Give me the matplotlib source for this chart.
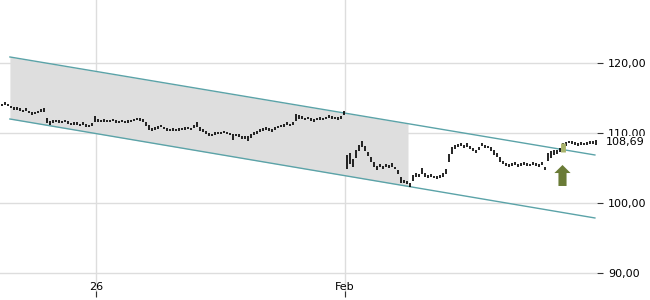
import numpy as np
import matplotlib
matplotlib.use("Agg")
import matplotlib.pyplot as plt

# intraday bars (close and high-low span), one every bar index
closes = [
    114.0, 114.2, 114.0, 113.7, 113.5, 113.5, 113.3, 113.2, 113.3, 113.0,
    112.8, 112.9, 113.0, 113.2, 113.3, 111.8, 111.4, 111.6, 111.7, 111.6,
    111.6, 111.7, 111.5, 111.3, 111.4, 111.3, 111.2, 111.3, 111.1, 111.0,
    111.2, 112.0, 111.8, 111.7, 111.8, 111.7, 111.7, 111.8, 111.6, 111.6,
    111.7, 111.6, 111.6, 111.7, 111.9, 112.0, 111.9, 111.8, 111.3, 110.8,
    110.5, 110.6, 110.8, 111.0, 110.7, 110.5, 110.4, 110.5, 110.4, 110.5,
    110.6, 110.6, 110.7, 110.6, 110.9, 111.2, 110.6, 110.4, 110.1, 109.8,
    109.7, 109.9, 110.0, 110.0, 110.1, 110.0, 109.9, 109.4, 109.7, 109.6,
    109.4, 109.3, 109.2, 109.6, 109.9, 110.1, 110.3, 110.5, 110.6, 110.5,
    110.3, 110.6, 110.8, 111.0, 111.1, 111.3, 111.2, 111.3, 112.2, 112.3,
    112.2, 112.0, 112.1, 111.9, 111.8, 112.0, 112.1, 112.0, 112.2, 112.3,
    112.2, 112.1, 112.1, 112.2, 112.8, 105.8, 106.3, 105.7, 107.0, 107.9,
    108.4, 107.8, 107.0, 106.2, 105.5, 105.0, 105.3, 105.1, 105.3, 105.2,
    105.4, 105.0, 104.4, 103.3, 103.1, 102.9, 102.6, 103.6, 104.0, 103.9,
    104.6, 104.0, 103.8, 103.9, 103.7, 103.6, 103.8, 104.0, 104.5, 106.4,
    107.5, 108.0, 108.2, 108.3, 108.1, 108.3, 107.9, 107.6, 107.4, 107.8,
    108.3, 108.1, 108.0, 107.7, 107.2, 106.8, 106.2, 105.8, 105.5, 105.3,
    105.5, 105.6, 105.4, 105.5, 105.6, 105.5, 105.4, 105.6, 105.5, 105.4,
    105.6, 104.9, 106.6, 106.9, 107.2, 107.3, 107.6, 107.9, 108.4, 108.7,
    108.6, 108.5, 108.3, 108.5, 108.4, 108.5, 108.6, 108.6, 108.69,
]
spans = [
    0.4, 0.5, 0.4, 0.4, 0.3, 0.4, 0.4, 0.3, 0.4, 0.4,
    0.4, 0.3, 0.4, 0.4, 0.5, 0.8, 0.5, 0.4, 0.3, 0.4,
    0.3, 0.4, 0.4, 0.3, 0.4, 0.4, 0.3, 0.4, 0.4, 0.3,
    0.5, 0.8, 0.4, 0.3, 0.4, 0.3, 0.4, 0.3, 0.4, 0.3,
    0.4, 0.3, 0.4, 0.4, 0.3, 0.4, 0.4, 0.4, 0.5, 0.8,
    0.5, 0.4, 0.4, 0.3, 0.4, 0.4, 0.3, 0.4, 0.3, 0.4,
    0.3, 0.4, 0.4, 0.3, 0.4, 0.6, 0.5, 0.4, 0.4, 0.4,
    0.3, 0.4, 0.3, 0.4, 0.3, 0.4, 0.3, 0.8, 0.4, 0.4,
    0.4, 0.4, 0.7, 0.5, 0.4, 0.4, 0.4, 0.3, 0.4, 0.4,
    0.4, 0.4, 0.3, 0.4, 0.4, 0.4, 0.3, 0.4, 1.0, 0.5,
    0.4, 0.4, 0.3, 0.4, 0.4, 0.3, 0.4, 0.4, 0.3, 0.4,
    0.4, 0.3, 0.4, 0.4, 0.6, 2.0, 1.6, 1.2, 1.2, 0.9,
    0.9, 0.8, 0.7, 0.8, 0.6, 0.5, 0.4, 0.5, 0.4, 0.4,
    0.5, 0.4, 0.6, 0.8, 0.5, 0.4, 0.5, 0.8, 0.5, 0.4,
    0.8, 0.5, 0.4, 0.4, 0.3, 0.4, 0.4, 0.5, 0.8, 1.2,
    0.9, 0.5, 0.4, 0.4, 0.4, 0.5, 0.4, 0.4, 0.4, 0.5,
    0.4, 0.4, 0.4, 0.5, 0.7, 0.6, 0.6, 0.5, 0.4, 0.4,
    0.3, 0.4, 0.4, 0.3, 0.4, 0.4, 0.3, 0.4, 0.3, 0.4,
    0.4, 0.4, 1.2, 1.0, 0.6, 0.5, 0.5, 1.2, 0.5, 0.4,
    0.4, 0.3, 0.4, 0.4, 0.3, 0.4, 0.4, 0.4, 0.7,
]

# trend channel
channel_x = [2.8, 197.8]
channel_upper = [120.86, 106.86]
channel_lower = [112.0, 97.86]
shade_end = 135.5

signal_bar = 187
arrow_bottom = 102.43
arrow_top = 105.43

x_ticks = [31.5, 114.5]
x_labels = ["26", "Feb"]
y_ticks = [90, 100, 110, 120]
y_labels = ["90,00", "100,00", "110,00", "120,00"]
last_price = 108.69
last_label = "108,69"

teal = "#5ba3a8"
grid = "#dddddd"

fig = plt.figure(figsize=(6.5, 3), dpi=100)
ax = fig.add_axes([0, 3 / 300, 597 / 650, 297 / 300])

x = np.arange(len(closes))
c = np.array(closes)
s = np.array(spans)

# shaded part of the channel
xs = np.linspace(channel_x[0], shade_end, 2)
ax.fill_between(
    xs,
    np.interp(xs, channel_x, channel_lower),
    np.interp(xs, channel_x, channel_upper),
    color="#dedede",
    lw=0,
    zorder=1,
)
ax.plot(channel_x, channel_upper, color=teal, lw=1, zorder=2)
ax.plot(channel_x, channel_lower, color=teal, lw=1, zorder=2)

ax.vlines(x, c - s / 2, c + s / 2, color="black", lw=1.2, zorder=3)
ax.vlines(
    signal_bar,
    closes[signal_bar] - spans[signal_bar] / 2,
    closes[signal_bar] + spans[signal_bar] / 2,
    color="#a9b36a",
    lw=3.5,
    zorder=4,
)
ax.arrow(
    signal_bar,
    arrow_bottom,
    0,
    arrow_top - arrow_bottom,
    width=2.7,
    head_width=5.4,
    head_length=1.15,
    length_includes_head=True,
    color="#6a7b36",
    lw=0,
    zorder=5,
)

ax.set_xlim(-0.5, 198.5)
ax.set_ylim(86.57, 129)

for sp in ax.spines.values():
    sp.set_visible(False)

ax.set_xticks(x_ticks)
ax.set_xticklabels(x_labels)
ax.set_yticks(y_ticks)
ax.set_yticklabels(y_labels)
ax.yaxis.tick_right()
ax.tick_params(axis="x", direction="in", length=4, pad=-11, labelsize=8, color="#333333")
ax.tick_params(axis="y", direction="out", length=4, pad=4, labelsize=8, color="#333333")
ax.grid(True, color=grid, lw=1, zorder=0)
ax.set_axisbelow(True)

# last price sits over the 110 label, as in the source chart
ax.text(
    1 + 9 / 597,
    last_price,
    last_label,
    transform=ax.get_yaxis_transform(),
    ha="left",
    va="center",
    fontsize=8,
    bbox=dict(facecolor="white", edgecolor="none", pad=0.5),
    clip_on=False,
    zorder=10,
)

fig.savefig("out.png", dpi=100)
